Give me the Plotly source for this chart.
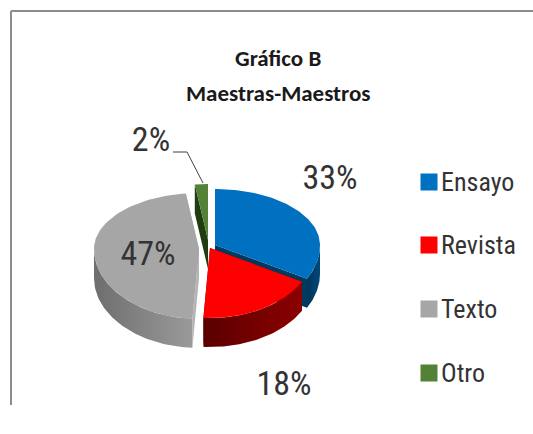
import numpy as np
import plotly.graph_objects as go

categories = ['Ensayo', 'Revista', 'Texto', 'Otro']
values = [33, 18, 47, 2]
top_colors = ['#0070C0', '#FF0000', '#A6A6A6', '#538135']
cut_colors = ['#003A63', '#7A0000', '#B4B4B4', '#1F3D10']
wall_colors = [
    ['#00477A', '#003558'],
    ['#8C0000', '#5A0000'],
    ['#9A9A9A', '#6E6E6E'],
    ['#1F3D10', '#1F3D10'],
]

title_lines = ['Gráfico B', 'Maestras-Maestros']

# pie geometry in page pixels (the reference is a tilted 3D pie)
cx, cy = 207, 248
rx = 105
ry_back, ry_front = 56, 70
depth = 29
offsets = [(8, -3), (3, 0), (-8, 1), (1, -8)]
label_pos = [(330, 180), (284, 386), (148, 256), (151, 142)]
legend_x = 429
legend_y = [182, 245, 309, 373]
legend_text_y = [184, 247, 311, 375]

fig = go.Figure()


def rim(angle, dx, dy):
    # angles are degrees clockwise from 12 o'clock
    rad = np.radians(angle)
    cos = np.cos(rad)
    ry = np.where(cos > 0, ry_back, ry_front)
    return cx + dx + rx * np.sin(rad), cy + dy - ry * cos


def add_poly(xs, ys, color=None, gradient=None):
    args = dict(x=xs, y=ys, mode='lines', line=dict(width=0), fill='toself',
                hoverinfo='skip', showlegend=False)
    if gradient:
        args['fillgradient'] = dict(type='horizontal',
                                    colorscale=[[0, gradient[0]], [1, gradient[1]]])
    else:
        args['fillcolor'] = color
    fig.add_trace(go.Scatter(**args))


# slice angles from the values
total = sum(values)
ends = np.cumsum(values) / total * 360
starts = np.concatenate([[0], ends[:-1]])

# back to front: Otro, Ensayo, Texto, Revista
for i in [3, 0, 2, 1]:
    a0, a1 = starts[i], ends[i]
    dx, dy = offsets[i]
    apex = (cx + dx, cy + dy)

    # flat cut faces on both sides of the slice
    for a in (a0, a1):
        ex, ey = rim(a, dx, dy)
        add_poly([apex[0], ex, ex, apex[0]],
                 [apex[1], ey, ey + depth, apex[1] + depth], color=cut_colors[i])

    # outer wall, only the part facing the viewer
    w0, w1 = max(a0, 90), min(a1, 270)
    if w1 > w0:
        ang = np.linspace(w0, w1, 60)
        wx, wy = rim(ang, dx, dy)
        add_poly(np.concatenate([wx, wx[::-1]]),
                 np.concatenate([wy, wy[::-1] + depth]),
                 gradient=wall_colors[i][::-1])

    # top of the slice
    ang = np.linspace(a0, a1, 80)
    tx, ty = rim(ang, dx, dy)
    add_poly(np.concatenate([[apex[0]], tx, [apex[0]]]),
             np.concatenate([[apex[1]], ty, [apex[1]]]), color=top_colors[i])

# leader line for the small slice
fig.add_trace(go.Scatter(x=[173, 187, 203], y=[152, 152, 183], mode='lines',
                         line=dict(color='#404040', width=1),
                         hoverinfo='skip', showlegend=False))

# percentage labels
fig.add_trace(go.Scatter(
    x=[p[0] for p in label_pos], y=[p[1] for p in label_pos],
    mode='text', text=[f'{v}%' for v in values],
    textfont=dict(family='Roboto Condensed', size=34, color='#333333'),
    hoverinfo='skip', showlegend=False,
))

# legend drawn next to the pie, keeps the reference's wide spacing
fig.add_trace(go.Scatter(
    x=[legend_x] * 4, y=legend_y, mode='markers',
    marker=dict(symbol='square', size=17, color=top_colors),
    hoverinfo='skip', showlegend=False,
))
fig.add_trace(go.Scatter(
    x=[legend_x + 12] * 4, y=legend_text_y, mode='text',
    text=categories, textposition='middle right',
    textfont=dict(family='Roboto Condensed', size=26, color='#333333'),
    hoverinfo='skip', showlegend=False,
))

for line, y in zip(title_lines, [58, 93]):
    fig.add_annotation(x=278, y=y, text=line, showarrow=False,
                       font=dict(family='Carlito', size=23, color='#1a1a1a', weight='bold'))

fig.update_layout(
    width=533,
    height=434,
    margin=dict(l=0, r=0, t=0, b=0),
    paper_bgcolor='white',
    plot_bgcolor='white',
    showlegend=False,
    xaxis=dict(range=[0, 533], visible=False, fixedrange=True),
    yaxis=dict(range=[434, 0], visible=False, fixedrange=True),
)

# chart frame, cut off by the crop on the right and bottom
fig.add_shape(type='line', x0=11, x1=11, y0=11, y1=405, line=dict(color='#8C8C8C', width=2))
fig.add_shape(type='line', x0=11, x1=533, y0=11, y1=11, line=dict(color='#8C8C8C', width=2))

fig.write_html("out.html", config=dict(displayModeBar=False),
               post_script="document.body.style.margin='0'")
